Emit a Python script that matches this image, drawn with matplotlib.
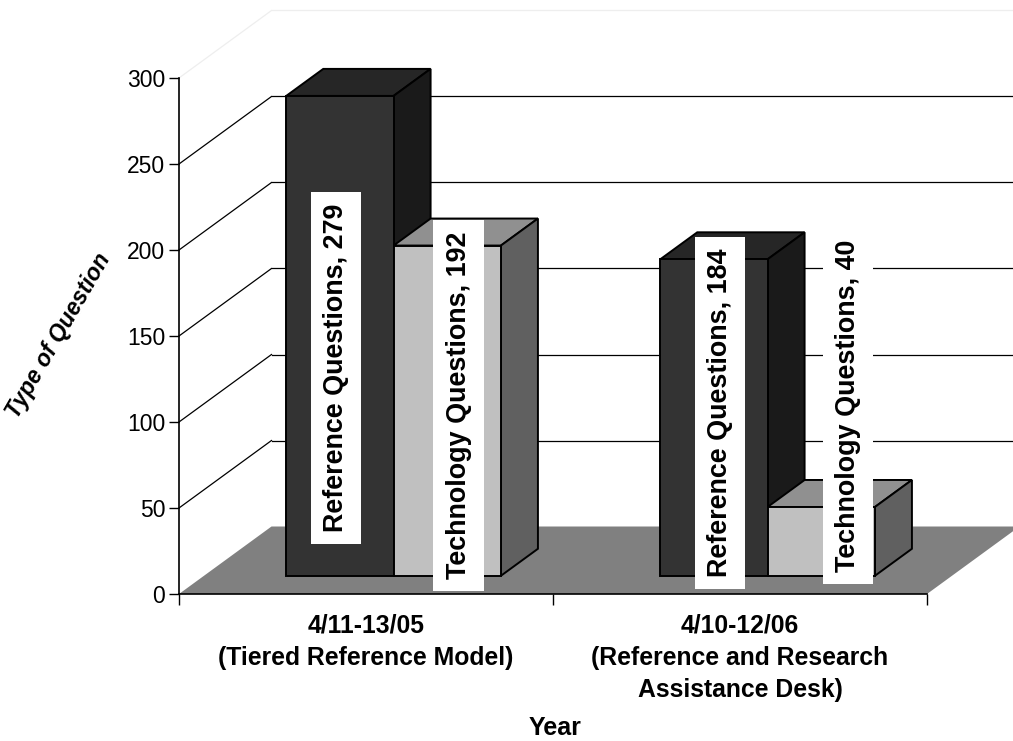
import matplotlib
matplotlib.use('Agg')
import matplotlib.pyplot as plt
from matplotlib.patches import Polygon

plt.rcParams['font.family'] = ['Liberation Sans', 'DejaVu Sans']

categories = ['4/11-13/05\n(Tiered Reference Model)',
              '4/10-12/06\n(Reference and Research\nAssistance Desk)']
reference_questions = [279, 184]
technology_questions = [192, 40]
yticks = [0, 50, 100, 150, 200, 250, 300]
xlab = 'Year'
ylab = 'Type of Question'

# fake 3d: one depth unit shifts this far in data coords
DX = 92.5 / 374
DY = 67.5 / 1.72
BAR_W = 0.287
D0, D1 = 0.27, 0.67

fig = plt.figure(figsize=(10.13, 7.41), dpi=100)
ax = fig.add_axes([179 / 1013, 147 / 741, 748 / 1013, 516 / 741])
ax.set_xlim(-0.5, 1.5)
ax.set_ylim(0, 300)
ax.patch.set_visible(False)


def pt(x, y, d):
    return (x + d * DX, y + d * DY)


def poly(pts, color, z, lw=1.4, ec='black'):
    ax.add_patch(Polygon(pts, closed=True, fc=color, ec=ec, lw=lw, zorder=z,
                         clip_on=False, joinstyle='miter'))


def bar3d(x0, val, front, top, side, z):
    x1 = x0 + BAR_W
    poly([pt(x0, 0, D0), pt(x1, 0, D0), pt(x1, val, D0), pt(x0, val, D0)], front, z + 0.2)
    poly([pt(x0, val, D0), pt(x1, val, D0), pt(x1, val, D1), pt(x0, val, D1)], top, z)
    poly([pt(x1, 0, D0), pt(x1, 0, D1), pt(x1, val, D1), pt(x1, val, D0)], side, z + 0.1)


# back wall + side wall lines
for v in yticks[1:]:
    c = '#eeeeee' if v == 300 else 'black'
    ax.plot(*zip(pt(-0.5, v, 0), pt(-0.5, v, 1)), color=c, lw=0.9, zorder=1, clip_on=False)
    ax.plot(*zip(pt(-0.5, v, 1), pt(1.5, v, 1)), color=c, lw=0.9, zorder=1, clip_on=False)

# floor
poly([pt(-0.5, 0, 0), pt(1.5, 0, 0), pt(1.5, 0, 1), pt(-0.5, 0, 1)], '#808080', 2, lw=0, ec='none')

for i in range(len(categories)):
    x0 = i - BAR_W + 0.007
    bar3d(x0, reference_questions[i], '#333333', '#262626', '#1a1a1a', 3 + 2 * i)
    bar3d(x0 + BAR_W, technology_questions[i], '#c0c0c0', '#909090', '#606060', 4 + 2 * i)

# data labels, centres in pixels
label_txt = ['Reference Questions, %d' % reference_questions[0],
             'Technology Questions, %d' % technology_questions[0],
             'Reference Questions, %d' % reference_questions[1],
             'Technology Questions, %d' % technology_questions[1]]
label_pos = [(336, 368), (458.5, 405.5), (720, 413), (848, 405.5)]
for s, (px, py) in zip(label_txt, label_pos):
    fig.text(px / 1013, 1 - py / 741, s, rotation=90, ha='center', va='center',
             fontsize=19.4, fontweight='bold', zorder=20,
             bbox=dict(fc='white', ec='none', pad=8.8))

ax.set_xticks([-0.5, 0.5, 1.5])
ax.set_xticklabels([])
ax.set_yticks(yticks)
ax.tick_params(axis='y', labelsize=16.5, length=7, width=1, pad=3)
ax.tick_params(axis='x', length=8, width=1)
for s in ['top', 'right']:
    ax.spines[s].set_visible(False)
for s in ['left', 'bottom']:
    ax.spines[s].set_zorder(10)
    ax.spines[s].set_linewidth(1.2)

for i, c in enumerate(categories):
    ax.text(i, -11.3, c, ha='center', va='top', fontsize=17.8, fontweight='bold',
            linespacing=1.44, clip_on=False)
fig.text(555 / 1013, 1 - 728 / 741, xlab, ha='center', va='center', fontsize=18, fontweight='bold')
fig.text(59 / 1013, 1 - 336 / 741, ylab, ha='center', va='center', rotation=60, fontsize=16.5,
         fontweight='bold', fontstyle='italic')

fig.savefig('out.png', dpi=100)
